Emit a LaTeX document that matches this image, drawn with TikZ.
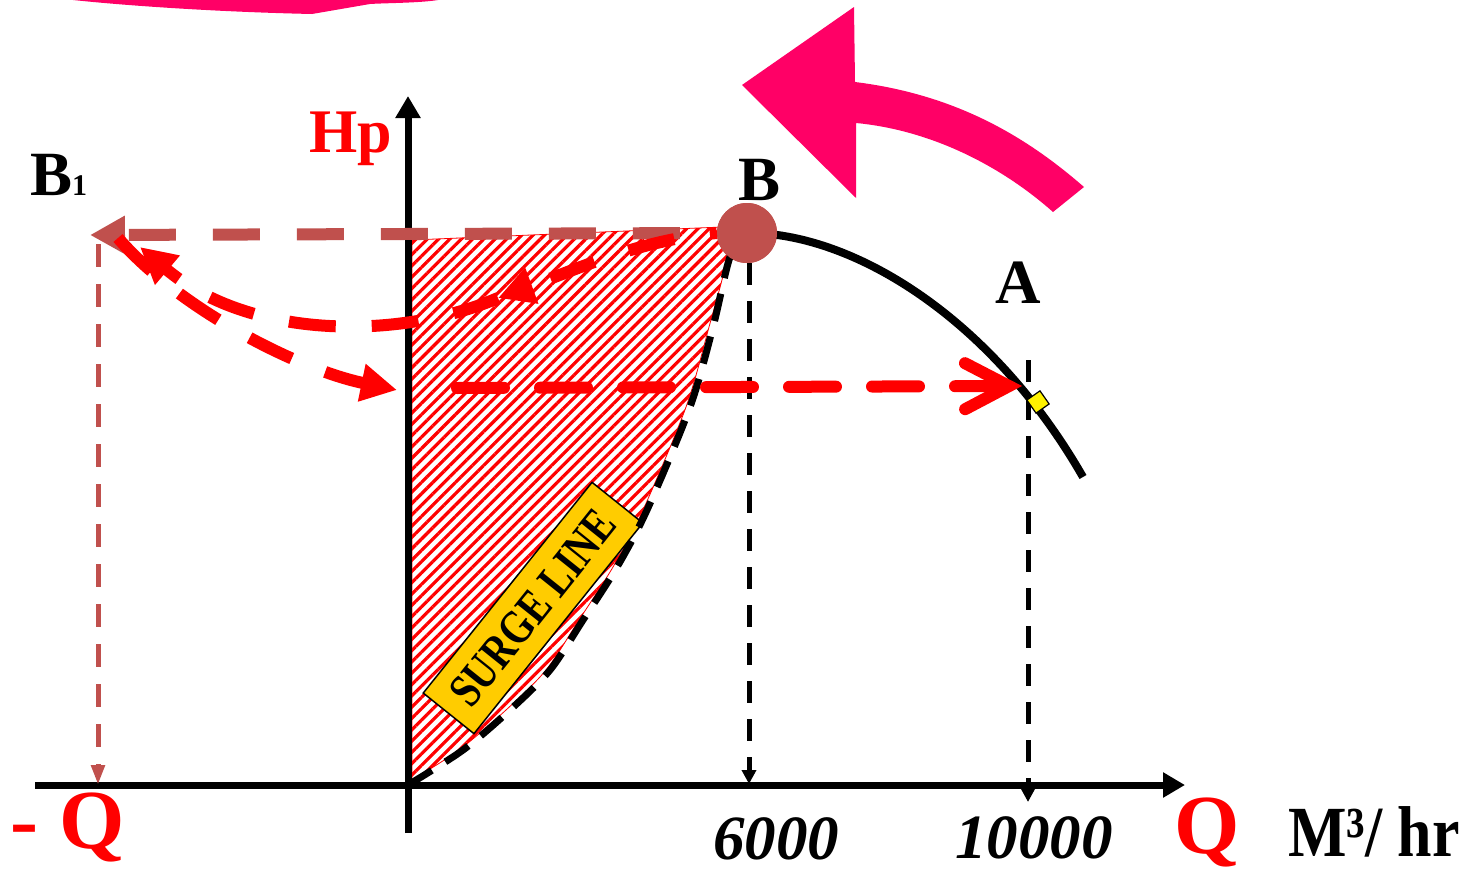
\documentclass[tikz,border=0pt]{standalone}
\usepackage{fontspec}
\setmainfont{Liberation Serif}
\usetikzlibrary{arrows.meta,patterns.meta}
\definecolor{pinkc}{HTML}{FF0066}
\definecolor{brownc}{HTML}{C0504D}
\definecolor{surgey}{HTML}{FFCC00}
\tikzset{
  lbl/.style={anchor=base west, inner sep=0pt, font=\fontsize{63}{63}\selectfont\bfseries},
  axisline/.style={line width=7pt, -{Triangle[length=22pt,width=24pt]}},
  blackdash/.style={line width=5pt, dash pattern=on 22pt off 16pt},
  reddash/.style={red, line width=12pt, dash pattern=on 47pt off 36pt},
  browndash/.style={brownc, line width=12pt, dash pattern=on 47pt off 37pt, dash phase=47pt},
  redtip/.style={-{Triangle[length=36pt,width=36pt]}},
}
\begin{document}
\begin{tikzpicture}[x=1pt,y=-1pt]
\useasboundingbox[fill=white] (0,0) rectangle (1472,870);

% coordinates
\coordinate (O) at (408,785);
\coordinate (xl) at (35,785);
\coordinate (xr) at (1185,785);
\coordinate (yb) at (408,833);
\coordinate (yt) at (408,96);
\coordinate (B1) at (90,235);
\coordinate (B1v) at (98,244);
\coordinate (B1b) at (98,785);
\coordinate (Bb) at (749,784);
\coordinate (A) at (1022,386);
\coordinate (At) at (1028,360);
\coordinate (Ab) at (1028,802);
\coordinate (M) at (498,298);
\coordinate (U) at (140,247);
\coordinate (Ls) at (118,238);
\coordinate (L) at (397,390);
\coordinate (H) at (457,388);

% pink stroke at top
\fill[pinkc] (73,0) -- (438,0) .. controls (420,3) and (385,3) .. (370,4)
  -- (312,14) .. controls (220,12) and (130,6) .. (73,0) -- cycle;

% big pink curved arrow
\fill[pinkc] (742,85) -- (854,7) -- (855,82)
  .. controls (960,95) and (1030,140) .. (1084,187) -- (1053,212)
  .. controls (1000,165) and (930,130) .. (856,123) -- (856,198) -- cycle;

% hatched region
\path[pattern={Lines[angle=45,distance=8pt,line width=3.2pt]}, pattern color=red, draw=red, line width=0.8pt]
  (412,780) -- (412,240) -- (722,227) -- plot[smooth] coordinates {(722,227) (727,257) (709,327) (686,407) (643,510) (613,567) (579,620) (546,670) (506,710) (459,750) (412,780)} -- cycle;

% surge line label box
\node[draw=black, fill=surgey, rotate=51.3, minimum width=270pt, minimum height=65pt, inner sep=0pt,
  line width=1.5pt, font=\fontsize{48}{48}\selectfont\bfseries] (SL) at (533,608) {\scalebox{0.8}[1]{SURGE LINE}};

% B point
\node[circle, fill=brownc, minimum size=60pt, inner sep=0pt] (B) at (747,233) {};

% surge dashed curve
\draw[line width=7pt, dash pattern=on 28pt off 16pt] plot[smooth] coordinates
  {(O) (463,750) (510,710) (550,670) (583,620) (617,567) (647,510) (690,407) (713,327) (730,257) (B.center)};

% performance curve
\draw[line width=8pt] (B.center) .. controls (850,232) and (990,315) .. (1083,477);

% vertical dashed drops
\draw[blackdash, -{Triangle[length=14pt,width=14pt]}] (B.center) ++(2,30) -- (Bb);
\draw[blackdash, -{Triangle[length=14pt,width=14pt]}] (At) -- (Ab);

% axes
\draw[axisline] (xl) -- (xr);
\draw[axisline] (yb) -- (yt);

% redraw B over curves
\node[circle, fill=brownc, minimum size=60pt, inner sep=0pt] at (B) {};

% brown dashed lines
\draw[browndash, -{Triangle[length=35pt,width=36pt]}] (B.west) -- (B1);
\draw[brownc, line width=5pt, dash pattern=on 23pt off 17pt, -{Triangle[length=20pt,width=13pt]}] (B1v) -- (B1b);

% red dashed curves
\draw[reddash, dash phase=40pt, redtip] (B.west) .. controls (640,240) and (580,268) .. (M);
\draw[reddash, redtip] (M) .. controls (400,340) and (250,340) .. (U);
\draw[reddash, redtip] (Ls) .. controls (180,310) and (300,370) .. (L);
\draw[reddash, line cap=round, -{Straight Barb[length=44pt,width=46pt,line cap=round]}] (H) -- (A);

% yellow diamond
\node[draw=black, fill=yellow, minimum size=16pt, inner sep=0pt, rotate=35, line width=1.2pt] (D) at (1038,402) {};

% labels
\node[lbl, text=red, font=\fontsize{62}{62}\selectfont\bfseries] (Hp) at (309,152) {Hp};
\node[lbl] (B1l) at (30,195) {B\fontsize{30}{30}\selectfont 1};
\node[lbl] (Bl) at (738,200) {B};
\node[lbl] (Al) at (995,303) {A};
\node[lbl, text=red, font=\fontsize{84}{84}\selectfont\bfseries] (mQ) at (10,848) {- Q};
\node[lbl, text=red, font=\fontsize{84}{84}\selectfont\bfseries] (Q) at (1174,853) {Q};
\node[lbl, font=\fontsize{72}{72}\selectfont\bfseries, xscale=0.86] (unit) at (1288,856) {M³/ hr};
\node[lbl, font=\fontsize{63}{63}\selectfont\bfseries\itshape] (n6) at (713,859) {6000};
\node[lbl, font=\fontsize{63}{63}\selectfont\bfseries\itshape] (n10) at (955,858) {10000};
\end{tikzpicture}
\end{document}
